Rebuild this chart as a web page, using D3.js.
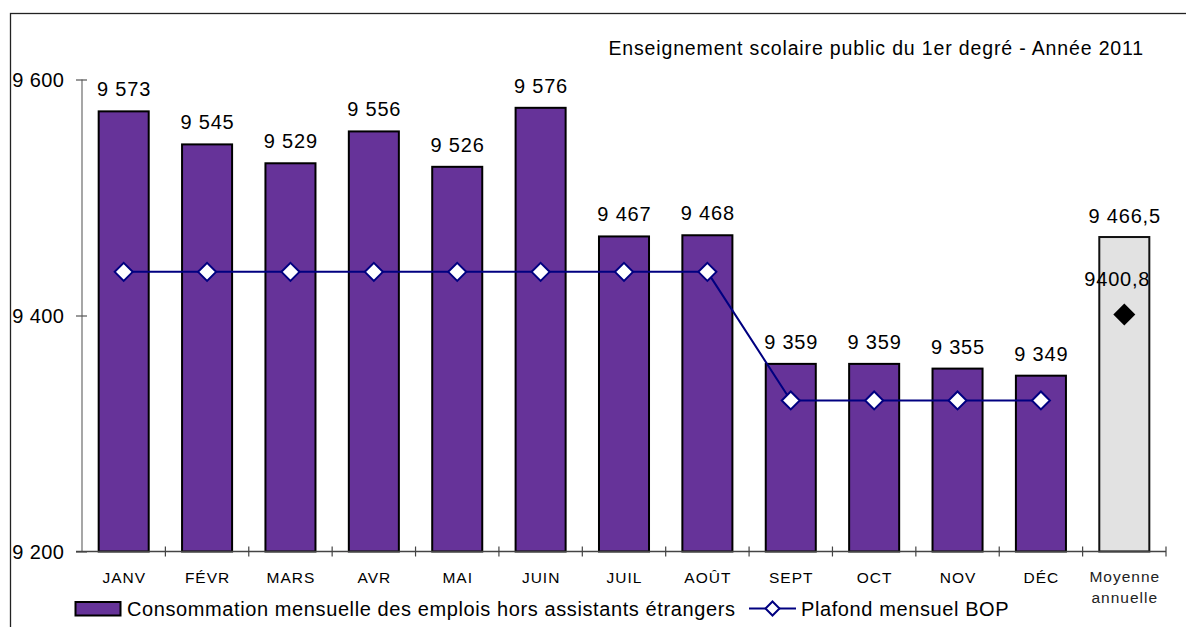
<!DOCTYPE html>
<html>
<head>
<meta charset="utf-8">
<script src="https://cdn.jsdelivr.net/npm/d3@7/dist/d3.min.js"></script>
<style>
  html, body { margin: 0; padding: 0; background: #fff; }
  svg { display: block; font-family: "Liberation Sans", Arial, sans-serif; }
</style>
</head>
<body>
<svg id="chart" width="1186" height="627"></svg>
<script>
// Monthly data, 2011
const months = ["JANV", "FÉVR", "MARS", "AVR", "MAI", "JUIN", "JUIL", "AOÛT", "SEPT", "OCT", "NOV", "DÉC"];
const consumption = [9573, 9545, 9529, 9556, 9526, 9576, 9467, 9468, 9359, 9359, 9355, 9349];
const ceiling = [9437, 9437, 9437, 9437, 9437, 9437, 9437, 9437, 9328, 9328, 9328, 9328];
const averageLabel = ["Moyenne", "annuelle"];
const averageConsumption = 9466.5;
const averageCeiling = 9400.8;
const yTicks = [9200, 9400, 9600];
const title = "Enseignement scolaire public du 1er degré - Année 2011";
const legendBars = "Consommation mensuelle des emplois hors assistants étrangers";
const legendLine = "Plafond mensuel BOP";

const fr = d3.formatLocale({ decimal: ",", thousands: "\u00a0", grouping: [3], currency: ["", " €"] });
const fmtInt = fr.format(",d");
const fmtAvg = fr.format(",.1f");
const fmtPlain = fr.format(".1f");

const svg = d3.select("#chart");
const purple = "#663399";
const navy = "#000080";
const bigFont = 20, bigSpacing = 0.8;
const smallFont = 15.5, smallSpacing = 1;

// Outer frame (runs off the right and bottom edges)
svg.append("rect")
  .attr("x", 10.5).attr("y", 13.5).attr("width", 1300).attr("height", 700)
  .attr("fill", "none").attr("stroke", "#222").attr("stroke-width", 1.3);

const cats = months.concat(["AVG"]);
const x = d3.scaleBand().domain(cats).range([82, 1166]).paddingInner(0).paddingOuter(0);
const y = d3.scaleLinear().domain([9200, 9600]).range([551.5, 79.5]);
const barW = x.bandwidth() * 0.6;

// Title
svg.append("text")
  .attr("x", 1144).attr("y", 55)
  .attr("text-anchor", "end")
  .attr("font-size", 19.5)
  .attr("letter-spacing", 0.85)
  .text(title);

// Y axis
const yAxis = svg.append("g").attr("transform", "translate(82,0)")
  .call(d3.axisLeft(y).tickValues(yTicks).tickSize(0).tickFormat(fmtInt));
yAxis.select(".domain").attr("stroke", "#777").attr("stroke-width", 1.3)
  .attr("d", `M0,${y(9600)}V${y(9200)}`);
yAxis.selectAll(".tick text").attr("font-size", bigFont).attr("fill", "#000")
  .attr("letter-spacing", 0.4)
  .attr("x", -17.6).attr("dy", "0.35em")
  .attr("font-family", "Liberation Sans, Arial, sans-serif");
yAxis.selectAll(".tick").append("line")
  .attr("x1", -6).attr("x2", 5).attr("stroke", "#555").attr("stroke-width", 1.2);

// Bars (monthly)
svg.append("g").selectAll("rect")
  .data(consumption)
  .join("rect")
  .attr("x", (d, i) => x(months[i]) + (x.bandwidth() - barW) / 2)
  .attr("y", d => y(d))
  .attr("width", barW)
  .attr("height", d => y(9200) - y(d))
  .attr("fill", purple)
  .attr("stroke", "#000")
  .attr("stroke-width", 2);

// Average bar
svg.append("rect")
  .attr("x", x("AVG") + (x.bandwidth() - barW) / 2)
  .attr("y", y(averageConsumption))
  .attr("width", barW)
  .attr("height", y(9200) - y(averageConsumption))
  .attr("fill", "#e2e2e2")
  .attr("stroke", "#111")
  .attr("stroke-width", 2);

// X axis
const xAxisG = svg.append("g").attr("transform", `translate(0,${y(9200)})`);
xAxisG.append("line").attr("x1", 76).attr("x2", 1166)
  .attr("stroke", "#444").attr("stroke-width", 1.3);
xAxisG.selectAll("line.tk")
  .data(d3.range(1, cats.length + 1))
  .join("line")
  .attr("class", "tk")
  .attr("x1", i => x.range()[0] + i * x.bandwidth())
  .attr("x2", i => x.range()[0] + i * x.bandwidth())
  .attr("y1", -5).attr("y2", 5)
  .attr("stroke", "#444").attr("stroke-width", 1.2);
xAxisG.selectAll("text.mlab")
  .data(months)
  .join("text")
  .attr("class", "mlab")
  .attr("x", d => x(d) + x.bandwidth() / 2 + smallSpacing / 2)
  .attr("y", 31)
  .attr("text-anchor", "middle")
  .attr("font-size", smallFont)
  .attr("letter-spacing", smallSpacing)
  .text(d => d);
xAxisG.selectAll("text.alab")
  .data(averageLabel)
  .join("text")
  .attr("class", "alab")
  .attr("x", x("AVG") + x.bandwidth() / 2 + smallSpacing / 2)
  .attr("y", (d, i) => 30 + i * 21.5)
  .attr("text-anchor", "middle")
  .attr("font-size", smallFont)
  .attr("letter-spacing", smallSpacing)
  .attr("fill", "#222")
  .text(d => d);

// Value labels above bars
svg.append("g").selectAll("text")
  .data(consumption)
  .join("text")
  .attr("x", (d, i) => x(months[i]) + x.bandwidth() / 2 + bigSpacing / 2)
  .attr("y", d => y(d) - 15)
  .attr("text-anchor", "middle")
  .attr("font-size", bigFont)
  .attr("letter-spacing", bigSpacing)
  .text(d => fmtInt(d));

svg.append("text")
  .attr("x", x("AVG") + x.bandwidth() / 2 + bigSpacing / 2)
  .attr("y", y(averageConsumption) - 14)
  .attr("text-anchor", "middle")
  .attr("font-size", bigFont)
  .attr("letter-spacing", bigSpacing)
  .text(fmtAvg(averageConsumption));

// Ceiling line with diamond markers
const line = d3.line()
  .x((d, i) => x(months[i]) + x.bandwidth() / 2)
  .y(d => y(d));
svg.append("path")
  .datum(ceiling)
  .attr("d", line)
  .attr("fill", "none")
  .attr("stroke", navy)
  .attr("stroke-width", 2);

const diamond = (cx, cy, r) => `M${cx},${cy - r}L${cx + r},${cy}L${cx},${cy + r}L${cx - r},${cy}Z`;
svg.append("g").selectAll("path")
  .data(ceiling)
  .join("path")
  .attr("d", (d, i) => diamond(x(months[i]) + x.bandwidth() / 2, y(d), 9))
  .attr("fill", "#fff")
  .attr("stroke", navy)
  .attr("stroke-width", 2);

// Average ceiling marker
const avgX = x("AVG") + x.bandwidth() / 2;
svg.append("path")
  .attr("d", diamond(avgX, y(averageCeiling), 11))
  .attr("fill", "#000");
svg.append("text")
  .attr("x", avgX - 7)
  .attr("y", y(averageCeiling) - 29)
  .attr("text-anchor", "middle")
  .attr("font-size", bigFont)
  .attr("letter-spacing", bigSpacing)
  .text(fmtPlain(averageCeiling));

// Legend
const lg = svg.append("g");
lg.append("rect")
  .attr("x", 75.5).attr("y", 602).attr("width", 45).attr("height", 13.5)
  .attr("fill", purple).attr("stroke", "#000").attr("stroke-width", 2);
lg.append("text")
  .attr("x", 127).attr("y", 616)
  .attr("font-size", bigFont)
  .attr("letter-spacing", 0.6)
  .text(legendBars);
lg.append("line")
  .attr("x1", 749).attr("x2", 796).attr("y1", 608.5).attr("y2", 608.5)
  .attr("stroke", navy).attr("stroke-width", 2);
lg.append("path")
  .attr("d", diamond(772.5, 608.5, 7))
  .attr("fill", "#fff").attr("stroke", navy).attr("stroke-width", 2);
lg.append("text")
  .attr("x", 801).attr("y", 616)
  .attr("font-size", bigFont)
  .attr("letter-spacing", 0.6)
  .text(legendLine);
</script>
</body>
</html>
